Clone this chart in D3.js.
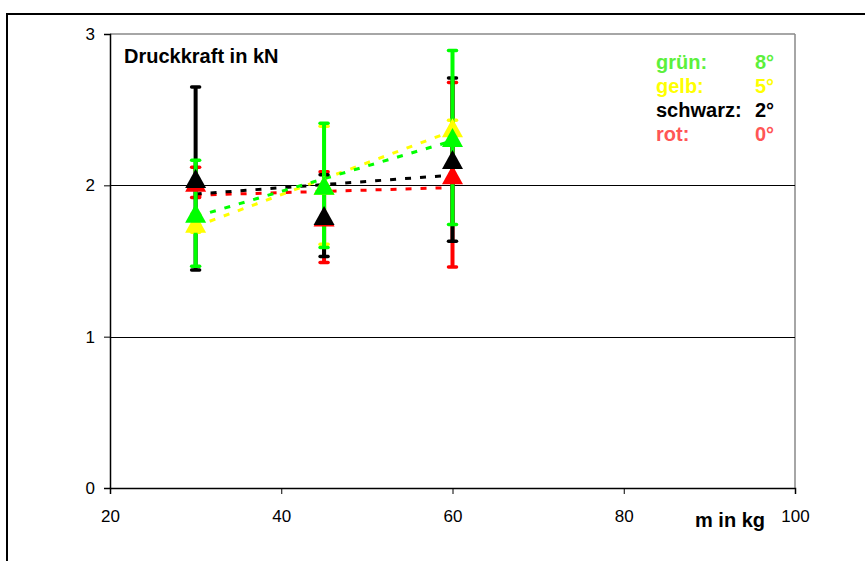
<!DOCTYPE html>
<html>
<head>
<meta charset="utf-8">
<script src="https://cdn.jsdelivr.net/npm/d3@7"></script>
<style>
  html, body { margin: 0; padding: 0; background: #fff; }
  svg { display: block; font-family: "Liberation Sans", Arial, sans-serif; }
</style>
</head>
<body>
<svg id="chart" width="865" height="561"></svg>
<script>
// ---- data ----
const masses = [30, 45, 60];
const seriesNames = ["rot", "schwarz", "gelb", "grün"];       // drawing order
const seriesColors = ["#ff0000", "#000000", "#ffff00", "#00ff00"];
const rotValues = [2.02, 1.79, 2.07];
const rotErrors = [0.10, 0.30, 0.61];
const schwarzValues = [2.045, 1.80, 2.17];
const schwarzErrors = [0.605, 0.27, 0.54];
const gelbValues = [1.75, 2.00, 2.38];
const gelbErrors = [0.06, 0.39, 0.05];
const gruenValues = [1.815, 2.00, 2.316];
const gruenErrors = [0.35, 0.41, 0.575];
const xTicks = [20, 40, 60, 80, 100];
const yTicks = [0, 1, 2, 3];
const legendLabels = ["grün:", "gelb:", "schwarz:", "rot:"];
const legendAngles = ["8°", "5°", "2°", "0°"];
const legendColors = ["#5cf03c", "#ffff00", "#000000", "#ff5555"];
const chartTitle = "Druckkraft in kN";
const xTitle = "m in kg";

const valuesBySeries = [rotValues, schwarzValues, gelbValues, gruenValues];
const errorsBySeries = [rotErrors, schwarzErrors, gelbErrors, gruenErrors];

const svg = d3.select("#chart");
const x = d3.scaleLinear().domain([20, 100]).range([110, 795]);
const y = d3.scaleLinear().domain([0, 3]).range([488, 34]);

// outer frame
svg.append("line").attr("x1", 6).attr("x2", 865).attr("y1", 14).attr("y2", 14)
  .attr("stroke", "#000").attr("stroke-width", 2);
svg.append("line").attr("x1", 7).attr("x2", 7).attr("y1", 14).attr("y2", 561)
  .attr("stroke", "#000").attr("stroke-width", 2);

// plot area border (top/right, gray)
svg.append("line").attr("x1", x(20)).attr("x2", x(100)).attr("y1", y(3)).attr("y2", y(3))
  .attr("stroke", "#888").attr("stroke-width", 1.5);
svg.append("line").attr("x1", x(100)).attr("x2", x(100)).attr("y1", y(3)).attr("y2", y(0))
  .attr("stroke", "#888").attr("stroke-width", 1.5);

// gridlines
svg.append("g").selectAll("line").data([1, 2]).join("line")
  .attr("x1", x(20)).attr("x2", x(100))
  .attr("y1", d => Math.round(y(d)) + 0.5).attr("y2", d => Math.round(y(d)) + 0.5)
  .attr("stroke", "#000").attr("stroke-width", 1);

// axes
const yAxis = d3.axisLeft(y).tickValues(yTicks).tickSize(6).tickPadding(9).tickFormat(d3.format("d"));
const yg = svg.append("g").attr("transform", `translate(${x(20)},0)`).call(yAxis);
yg.select(".domain").attr("stroke", "#000").attr("stroke-width", 1.5);
yg.selectAll(".tick line").attr("stroke", "#000");
yg.selectAll(".tick text").attr("font-size", 17).attr("fill", "#000")
  .attr("font-family", "'Liberation Sans', Arial, sans-serif");

const xAxis = d3.axisBottom(x).tickValues(xTicks).tickSize(6).tickPadding(16).tickFormat(d3.format("d"));
const xg = svg.append("g").attr("transform", `translate(0,${y(0)})`).call(xAxis);
xg.select(".domain").attr("stroke", "#000").attr("stroke-width", 1.5);
xg.selectAll(".tick line").attr("stroke", "#000");
xg.selectAll(".tick text").attr("font-size", 17).attr("fill", "#000")
  .attr("font-family", "'Liberation Sans', Arial, sans-serif");

// trendlines (linear regression)
const trendG = svg.append("g");
valuesBySeries.forEach((vals, i) => {
  const mx = d3.mean(masses), my = d3.mean(vals);
  const sxy = d3.sum(masses.map((m, k) => (m - mx) * (vals[k] - my)));
  const sxx = d3.sum(masses.map(m => (m - mx) ** 2));
  const b = sxy / sxx, a = my - b * mx;
  const x0 = d3.min(masses), x1 = d3.max(masses);
  trendG.append("line")
    .attr("x1", x(x0)).attr("y1", y(a + b * x0))
    .attr("x2", x(x1)).attr("y2", y(a + b * x1))
    .attr("stroke", seriesColors[i]).attr("stroke-width", 3)
    .attr("stroke-dasharray", "6,9");
});

// error bars
const errG = svg.append("g");
valuesBySeries.forEach((vals, i) => {
  const errs = errorsBySeries[i];
  const g = errG.append("g");
  masses.forEach((m, k) => {
    const cx = x(m);
    const top = y(vals[k] + errs[k]), bot = y(vals[k] - errs[k]);
    g.append("line").attr("x1", cx).attr("x2", cx).attr("y1", top).attr("y2", bot)
      .attr("stroke", seriesColors[i]).attr("stroke-width", 4);
    [top, bot].forEach(yy => {
      g.append("line").attr("x1", cx - 4).attr("x2", cx + 4).attr("y1", yy).attr("y2", yy)
        .attr("stroke", seriesColors[i]).attr("stroke-width", 3.5).attr("stroke-linecap", "round");
    });
  });
});

// markers (triangles)
const mk = svg.append("g");
const tw = 21, th = 19;
valuesBySeries.forEach((vals, i) => {
  mk.append("g").selectAll("path").data(masses.map((m, k) => [m, vals[k]])).join("path")
    .attr("transform", d => `translate(${x(d[0])},${y(d[1])})`)
    .attr("d", `M0,${-th / 2}L${tw / 2},${th / 2}L${-tw / 2},${th / 2}Z`)
    .attr("fill", seriesColors[i]);
});

// chart title
svg.append("text").attr("x", 124).attr("y", 63).attr("font-size", 20).attr("font-weight", "bold")
  .attr("fill", "#000").text(chartTitle);

// x title
svg.append("text").attr("x", 695).attr("y", 527)
  .attr("font-size", 20).attr("font-weight", "bold").attr("fill", "#000").text(xTitle);

// legend text
const lg = svg.append("g").attr("font-size", 20).attr("font-weight", "bold");
legendLabels.forEach((lab, i) => {
  const yy = 69 + i * 23.9;
  lg.append("text").attr("x", 656).attr("y", yy).attr("fill", legendColors[i]).text(lab);
  lg.append("text").attr("x", 774).attr("y", yy).attr("text-anchor", "end")
    .attr("fill", legendColors[i]).text(legendAngles[i]);
});
</script>
</body>
</html>
